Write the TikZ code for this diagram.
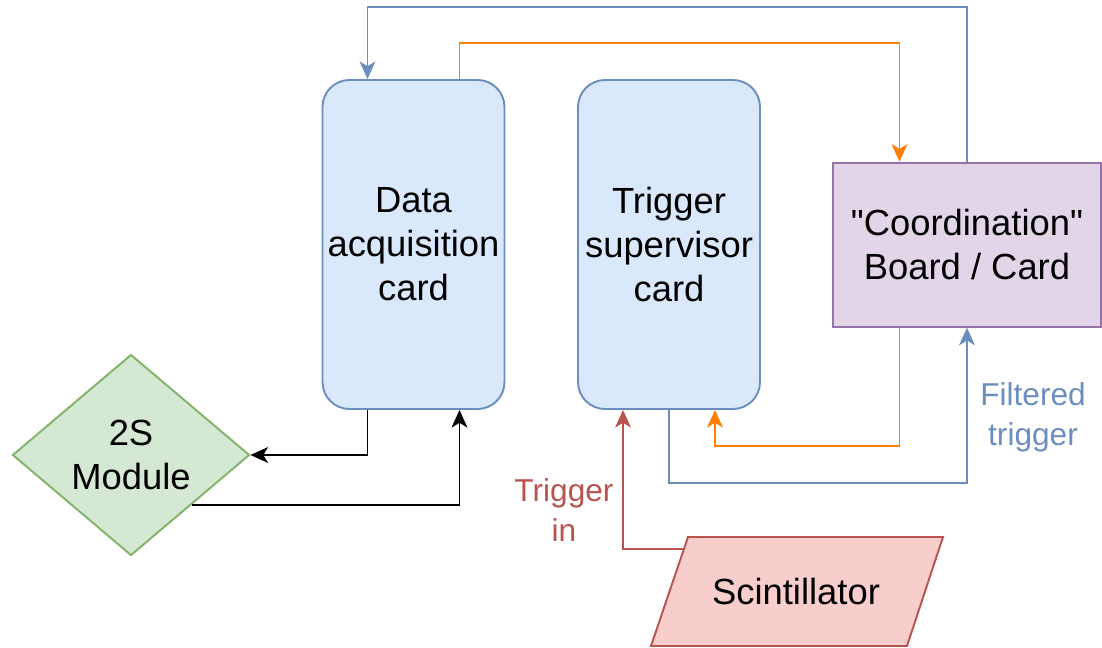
\documentclass[tikz,border=0pt]{standalone}
\usepackage{fontspec}
\setmainfont{Liberation Sans}
\usetikzlibrary{arrows.meta,shapes.geometric,calc}

\definecolor{bluefill}{HTML}{DAE8FC}
\definecolor{bluestroke}{HTML}{6C8EBF}
\definecolor{purplefill}{HTML}{E1D5E7}
\definecolor{purplestroke}{HTML}{9673A6}
\definecolor{greenfill}{HTML}{D5E8D4}
\definecolor{greenstroke}{HTML}{82B366}
\definecolor{redfill}{HTML}{F8CECC}
\definecolor{redstroke}{HTML}{B85450}
\definecolor{orangeline}{HTML}{FF8000}

\tikzset{
  bigtext/.style={font=\fontsize{20.7}{25}\selectfont, align=center},
  smalltext/.style={font=\fontsize{18}{22.8}\selectfont, align=center},
  cardbox/.style={draw=bluestroke, fill=bluefill, line width=1.1pt, rectangle,
    rounded corners=0.54cm, minimum width=3.64cm, minimum height=6.58cm,
    inner sep=0pt, bigtext},
  coordbox/.style={draw=purplestroke, fill=purplefill, line width=1.1pt, rectangle,
    minimum width=5.36cm, minimum height=3.28cm, inner sep=0pt, bigtext},
  modshape/.style={draw=greenstroke, fill=greenfill, line width=1.1pt, diamond,
    minimum width=4.74cm, minimum height=4.02cm, inner sep=0pt, bigtext},
  link/.style={line width=1.1pt, -{Stealth[length=10pt, width=9pt, inset=2.7pt]}},
  bluelink/.style={link, draw=bluestroke},
  orangelink/.style={link, draw=orangeline},
  blacklink/.style={link, draw=black},
  redlink/.style={link, draw=redstroke},
}

\begin{document}
\begin{tikzpicture}
\useasboundingbox (0,0) rectangle (22.04,-12.96);

% boxes
\node[cardbox] (daq) at (8.27,-4.89) {Data\\acquisition\\card};
\node[cardbox] (tsc) at (13.38,-4.89) {Trigger\\supervisor\\card};
\node[coordbox] (coord) at (19.34,-4.894) {\textquotedbl Coordination\textquotedbl\\Board / Card};
\node[modshape] (mod) at (2.62,-9.1) {2S\\Module};

% scintillator (parallelogram)
\coordinate (sTL) at (13.76,-10.74);
\coordinate (sTR) at (18.86,-10.74);
\coordinate (sBR) at (18.14,-12.92);
\coordinate (sBL) at (13.02,-12.92);
\draw[draw=redstroke, fill=redfill, line width=1.1pt] (sTL) -- (sTR) -- (sBR) -- (sBL) -- cycle;
\node[bigtext] (scint) at (15.92,-11.83) {Scintillator};

% attachment points on the cards
\coordinate (daqTA) at ($(daq.north west)!0.25!(daq.north east)$);
\coordinate (daqTB) at ($(daq.north west)!0.75!(daq.north east)$);
\coordinate (daqBA) at ($(daq.south west)!0.25!(daq.south east)$);
\coordinate (daqBB) at ($(daq.south west)!0.75!(daq.south east)$);
\coordinate (tscBA) at ($(tsc.south west)!0.25!(tsc.south east)$);
\coordinate (tscBB) at ($(tsc.south west)!0.75!(tsc.south east)$);
\coordinate (coordTA) at ($(coord.north west)!0.25!(coord.north east)$);
\coordinate (coordBA) at ($(coord.south west)!0.25!(coord.south east)$);
\coordinate (modOut) at ($(mod.east)!0.49!(mod.south)$);
\coordinate (scintIn) at ($(sBL)!0.89!(sTL)$);

% connectors
\draw[bluelink] (coord.north) |- ([yshift=1.44cm]daqTA) -- (daqTA);
\draw[orangelink] (daqTB) -- ([yshift=0.72cm]daqTB) -| (coordTA);
\draw[orangelink] (coordBA) -- ([yshift=-2.37cm]coordBA) -| (tscBB);
\draw[bluelink] (tsc.south) -- ([yshift=-1.46cm]tsc.south) -| (coord.south);
\draw[blacklink] (daqBA) |- (mod.east);
\draw[blacklink] (modOut) -| (daqBB);
\draw[redlink] (scintIn) -| (tscBA);

% labels
\node[smalltext, text=redstroke] (trigin) at (11.28,-10.2) {Trigger\\in};
\node[smalltext, text=bluestroke] (filt) at (20.66,-8.34) {Filtered\\trigger};
\end{tikzpicture}
\end{document}
